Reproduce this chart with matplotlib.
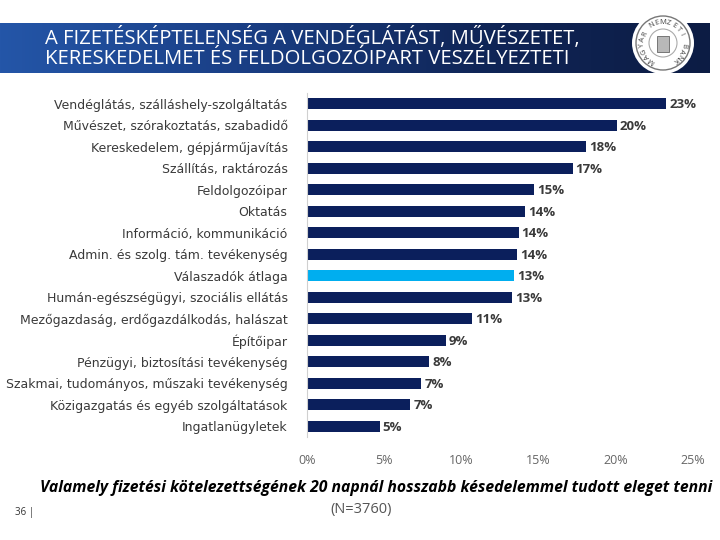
import numpy as np
import matplotlib.pyplot as plt
from matplotlib.patches import Circle, Rectangle
from matplotlib.colors import LinearSegmentedColormap

categories = [
    "Vendéglátás, szálláshely-szolgáltatás",
    "Művészet, szórakoztatás, szabadidő",
    "Kereskedelem, gépjárműjavítás",
    "Szállítás, raktározás",
    "Feldolgozóipar",
    "Oktatás",
    "Információ, kommunikáció",
    "Admin. és szolg. tám. tevékenység",
    "Válaszadók átlaga",
    "Humán-egészségügyi, szociális ellátás",
    "Mezőgazdaság, erdőgazdálkodás, halászat",
    "Építőipar",
    "Pénzügyi, biztosítási tevékenység",
    "Szakmai, tudományos, műszaki tevékenység",
    "Közigazgatás és egyéb szolgáltatások",
    "Ingatlanügyletek",
]
values = [23.25, 20.05, 18.1, 17.2, 14.7, 14.1, 13.7, 13.6, 13.4, 13.3,
          10.7, 9.0, 7.9, 7.4, 6.7, 4.7]
highlight = "Válaszadók átlaga"
x_ticks = [0, 5, 10, 15, 20, 25]

title = "A FIZETÉSKÉPTELENSÉG A VENDÉGLÁTÁST, MŰVÉSZETET,\nKERESKEDELMET ÉS FELDOLGOZÓIPART VESZÉLYEZTETI"
subtitle = "Valamely fizetési kötelezettségének 20 napnál hosszabb késedelemmel tudott eleget tenni"
note = "(N=3760)"
page = "36 |"

navy = "#0b1f5c"
light = "#00aeef"
plt.rcParams["font.family"] = ["Open Sans", "DejaVu Sans"]

fig = plt.figure(figsize=(7.2, 5.4), dpi=100)

# title banner with gradient
ban = fig.add_axes([0, 1 - 73 / 540, 710 / 720, 50 / 540])
grad = np.linspace(0, 1, 256).reshape(1, -1)
cmap = LinearSegmentedColormap.from_list("b", ["#2456a8", "#1a3f86", "#102658", "#0c1c44"])
ban.imshow(grad, aspect="auto", cmap=cmap, extent=[0, 710, 0, 50])
ban.set_xlim(0, 710)
ban.set_ylim(0, 50)
ban.axis("off")
ban.text(45, 25, title, color="white", fontsize=14.6, va="center", ha="left", linespacing=1.0)

# logo
cx, cy = 663, 30
ban.add_patch(Circle((cx, cy), 31, facecolor="white", edgecolor="none", zorder=3, clip_on=False))
ban.add_patch(Circle((cx, cy), 27, facecolor="white", edgecolor="#777777", lw=1, zorder=3, clip_on=False))
ban.add_patch(Circle((cx, cy), 14, facecolor="white", edgecolor="#aaaaaa", lw=0.8, zorder=3, clip_on=False))
ban.add_patch(Rectangle((cx - 6, cy - 9), 12, 16, facecolor="#b8b8b8", edgecolor="#666666", lw=0.6,
                        zorder=4, clip_on=False))
logo_txt = "MAGYAR NEMZETI BANK"
angs = np.linspace(235, -55, len(logo_txt))
for ch, a in zip(logo_txt, angs):
    r = np.deg2rad(a)
    ban.text(cx + 20.5 * np.cos(r), cy + 20.5 * np.sin(r), ch, fontsize=5.5, color="#444444",
             rotation=a - 90, ha="center", va="center", zorder=5, clip_on=False)

ax = fig.add_axes([307 / 720, 1 - 437 / 540, (693 - 307) / 720, 344 / 540])
y = np.arange(len(categories))
colors = [light if c == highlight else navy for c in categories]
ax.barh(y, values, height=0.52, color=colors)
for yi, v in zip(y, values):
    ax.text(v + 0.2, yi + 0.05, f"{v:.0f}%", va="center", ha="left", fontsize=9.5,
            fontweight="bold", color="#3a3a3a")
ax.set_ylim(len(categories) - 0.5, -0.5)
ax.set_xlim(0, 25)
ax.set_yticks(y)
ax.set_yticklabels(categories, fontsize=9, color="#3a3a3a", family=["DejaVu Sans"])
ax.set_xticks(x_ticks)
ax.set_xticklabels([f"{t}%" for t in x_ticks], fontsize=9, color="#666666")
ax.tick_params(axis="both", length=0)
ax.tick_params(axis="y", pad=14)
ax.tick_params(axis="x", pad=12)
for s in ["top", "right", "bottom"]:
    ax.spines[s].set_visible(False)
ax.spines["left"].set_color("#d0d0d0")

fig.text(376 / 720, 1 - 488 / 540, subtitle, ha="center", va="center", fontsize=11.3,
         fontweight="bold", style="italic", color="black")
fig.text(361 / 720, 1 - 509 / 540, note, ha="center", va="center", fontsize=10.5, color="#555555")
fig.text(15 / 720, 1 - 513 / 540, page, ha="left", va="center", fontsize=7, color="#333333")

fig.savefig("out.png", dpi=100)
